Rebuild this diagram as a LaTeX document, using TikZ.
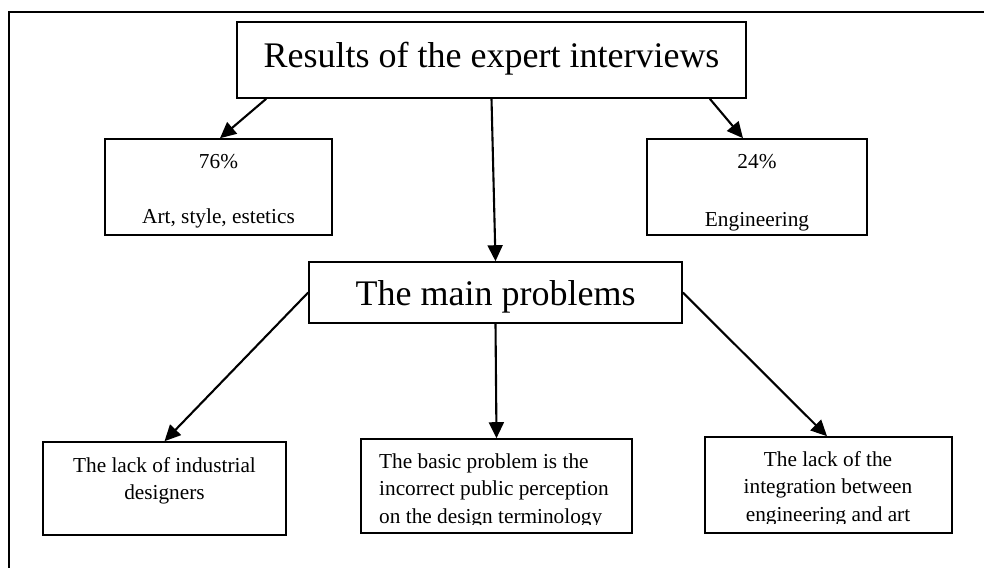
\documentclass[tikz,border=0pt]{standalone}
\usepackage{fontspec}
\setmainfont{Liberation Serif}
\usetikzlibrary{arrows.meta}
\begin{document}
\begin{tikzpicture}[x=1pt,y=-1pt,
  box/.style={draw, line width=1.6pt, inner sep=0pt},
  title/.style={font=\fontsize{36}{40}\selectfont},
  body/.style={inner sep=0pt, font=\fontsize{21.3}{27.5}\selectfont},
  arr/.style={-{Triangle[length=16pt,width=15pt]}, line width=2.1pt}]
\useasboundingbox (0,0) rectangle (984,568);

% outer frame (open towards the right and bottom)
\draw[line width=2pt] (984,12) -- (9,12) -- (9,568);

% heading boxes
\node[box, title, minimum width=509pt, minimum height=76pt,
      text height=25pt, text depth=11pt] (top) at (491.5,60)
  {Results of the expert interviews};
\node[box, title, minimum width=373pt, minimum height=61pt,
      text height=25pt, text depth=0pt] (main) at (495.5,292.5)
  {The main problems};

% share boxes
\node[box, minimum width=227pt, minimum height=96pt] (art) at (218.5,187) {};
\node[box, minimum width=220pt, minimum height=96pt] (eng) at (757,187) {};

% problem boxes
\node[box, minimum width=243pt, minimum height=93pt] (lack) at (164.5,488.5) {};
\node[box, minimum width=271pt, minimum height=94pt] (basic) at (496.5,486) {};
\node[box, minimum width=247pt, minimum height=96pt] (integ) at (828.5,485) {};

% box texts
\node[body, align=center, anchor=north] (art-t) at (218.5,148)
  {\rule{0pt}{20pt}76\%\\\mbox{}\\Art, style, estetics};
\begin{scope}
  \clip (647,139) rectangle (867,231);
  \node[body, align=center, anchor=north] (eng-t) at (757,148)
    {\rule{0pt}{20pt}24\%\\[30.5pt]Engineering};
\end{scope}
\node[body, align=center, anchor=north] (lack-t) at (164.5,452)
  {\rule{0pt}{20pt}The lack of industrial\\designers};
\begin{scope}
  \clip (361,439) rectangle (632,524);
  \node[body, align=left, anchor=north west] (basic-t) at (379,448)
    {\rule{0pt}{20pt}The basic problem is the\\incorrect public perception\\on the design terminology};
\end{scope}
\begin{scope}
  \clip (705,437) rectangle (952,523);
  \node[body, align=center, anchor=north] (integ-t) at (828,446)
    {\rule{0pt}{20pt}The lack of the\\integration between\\engineering and art};
\end{scope}

% connectors
\draw[arr] ([xshift=30pt]top.south west) -- ([xshift=1.5pt]art.north);
\draw[arr] (top.south) -- (main.north);
\draw[arr] ([xshift=-37pt]top.south east) -- ([xshift=-14pt]eng.north);
\draw[arr] (main.west) -- (lack.north);
\draw[arr] (main.south) -- (basic.north);
\draw[arr] (main.east) -- ([xshift=-1.5pt]integ.north);
\end{tikzpicture}
\end{document}
